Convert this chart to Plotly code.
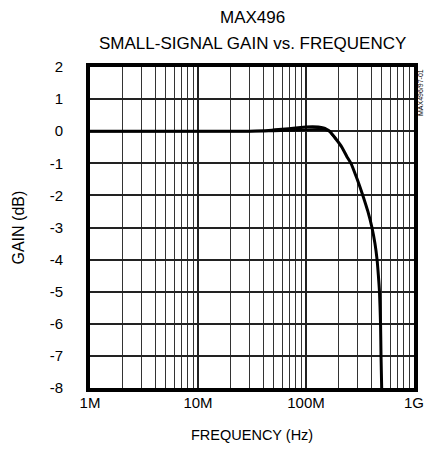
import plotly.graph_objects as go

# Data
freq_a = [1e6, 1e7, 3e7, 4.5e7, 6e7, 8e7, 1.0e8, 1.15e8, 1.3e8, 1.45e8, 1.55e8, 1.65e8,
          1.9e8, 2.15e8, 2.4e8, 2.61e8, 2.98e8, 3.36e8, 3.74e8, 4.08e8,
          4.35e8, 4.55e8, 4.68e8, 4.79e8, 4.9e8, 4.95e8, 5.02e8]
gain_a = [0.0, 0.0, 0.0, 0.02, 0.06, 0.1, 0.13, 0.14, 0.13, 0.1, 0.06, 0.0,
          -0.25, -0.5, -0.8, -1.0, -1.5, -2.0, -2.5, -3.0,
          -3.5, -4.0, -4.5, -5.0, -6.0, -7.0, -8.0]
freq_b = [1e6, 1e7, 3e7, 5e7, 8e7, 1.0e8, 1.3e8, 1.5e8, 1.65e8, 1.9e8]
gain_b = [0.0, 0.0, 0.0, 0.01, 0.03, 0.05, 0.06, 0.05, 0.0, -0.25]

x_tickvals = [1e6, 1e7, 1e8, 1e9]
x_ticktext = ["1M", "10M", "100M", "1G"]
y_tickvals = [2, 1, 0, -1, -2, -3, -4, -5, -6, -7, -8]
y_ticktext = ["2", "1", "0", "-1", "-2", "-3", "-4", "-5", "-6", "-7", "-8"]

FONT = "Liberation Sans, Arial, sans-serif"

fig = go.Figure()
fig.add_trace(go.Scatter(x=freq_b, y=gain_b, mode="lines",
                         line=dict(color="black", width=2.5), showlegend=False))
fig.add_trace(go.Scatter(x=freq_a, y=gain_a, mode="lines",
                         line=dict(color="black", width=3, shape="spline", smoothing=0.5),
                         showlegend=False))

fig.update_layout(
    width=426, height=452,
    margin=dict(l=90, r=12, t=67, b=64, autoexpand=False),
    paper_bgcolor="white", plot_bgcolor="white",
    font=dict(family=FONT, size=14, color="black"),
)
fig.update_xaxes(
    type="log", range=[6, 9], automargin=False,
    tickvals=x_tickvals, ticktext=x_ticktext, ticks="", ticklabelstandoff=-2,
    showgrid=True, gridcolor="#222", gridwidth=2,
    minor=dict(dtick="D1", showgrid=True, gridcolor="#333", gridwidth=1.3, ticks=""),
    showline=True, linecolor="black", linewidth=4, mirror=True,
    zeroline=False,
    tickfont=dict(family=FONT, size=15),
)
fig.update_yaxes(
    range=[-8, 2], automargin=False,
    tickvals=y_tickvals, ticktext=y_ticktext, ticks="", ticklabelstandoff=20,
    showgrid=True, gridcolor="#222", gridwidth=1.5,
    showline=True, linecolor="black", linewidth=4, mirror=True,
    zeroline=False,
    tickfont=dict(family=FONT, size=15),
)
# titles
fig.add_annotation(text="MAX496", xref="paper", yref="paper", x=0.5, y=1,
                   yanchor="middle", yshift=50, showarrow=False,
                   font=dict(family=FONT, size=17))
fig.add_annotation(text="SMALL-SIGNAL GAIN vs. FREQUENCY", xref="paper", yref="paper",
                   x=0.5, y=1, yanchor="middle", yshift=24, showarrow=False,
                   font=dict(family=FONT, size=17))
fig.add_annotation(text="FREQUENCY (Hz)", xref="paper", yref="paper", x=0.5, y=0,
                   yanchor="middle", yshift=-47, showarrow=False,
                   font=dict(family=FONT, size=14.5))
fig.add_annotation(text="GAIN (dB)", xref="paper", yref="paper", x=0, y=0.5,
                   xanchor="center", xshift=-72, showarrow=False, textangle=-90,
                   font=dict(family=FONT, size=16))
fig.add_annotation(text="MAX496/97-01", xref="paper", yref="paper",
                   x=1.0, y=1.0, xanchor="left", yanchor="top", xshift=1, yshift=0,
                   showarrow=False, textangle=-90,
                   font=dict(family=FONT, size=7, color="black"))

fig.write_html("out.html", config={"displayModeBar": False},
               post_script="document.body.style.margin='0px';")
